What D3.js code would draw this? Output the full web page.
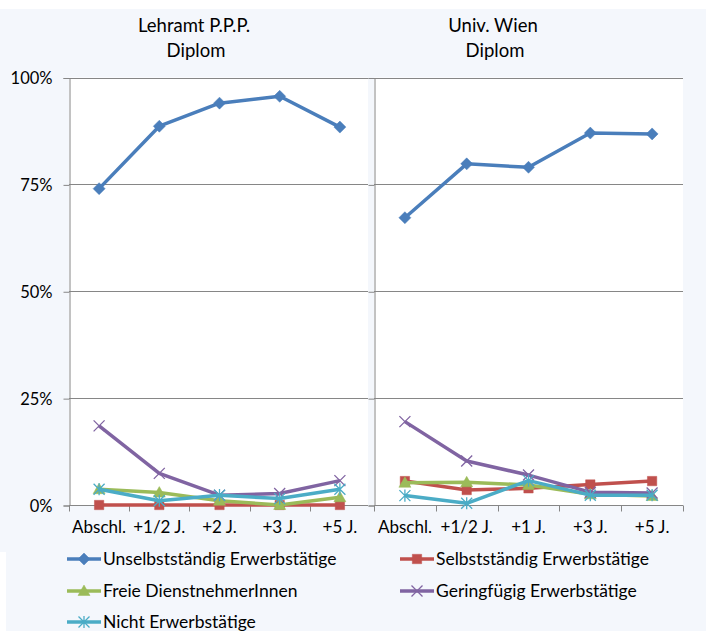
<!DOCTYPE html>
<html><head><meta charset="utf-8">
<script src="https://cdn.jsdelivr.net/npm/d3@7"></script>
<style>
body{margin:0;padding:0;background:#fff;}
svg{display:block;}
text{font-family:Lato,"Open Sans",sans-serif;fill:#000;}
</style></head><body>
<svg id="chart" width="706" height="631"></svg>
<script>
// ---- data ----
const leftTitle = ["Lehramt P.P.P.", "Diplom"];
const rightTitle = ["Univ. Wien", "Diplom"];
const leftCategories = ["Abschl.", "+1/2 J.", "+2 J.", "+3 J.", "+5 J."];
const rightCategories = ["Abschl.", "+1/2 J.", "+1 J.", "+3 J.", "+5 J."];
const seriesNames = ["Unselbstständig Erwerbstätige", "Selbstständig Erwerbstätige", "Freie DienstnehmerInnen", "Geringfügig Erwerbstätige", "Nicht Erwerbstätige"];
const seriesColors = ["#4A7EBB", "#C0504D", "#9BBB59", "#8064A2", "#4BACC6"];
const seriesMarkers = ["diamond", "square", "triangle", "x", "star"];
// left panel (Lehramt P.P.P. Diplom), values in %
const leftUnselbst = [74.0, 88.6, 94.0, 95.6, 88.4];
const leftSelbst = [0, 0, 0, 0, 0];
const leftFreie = [3.7, 2.9, 1.0, 0, 1.8];
const leftGering = [18.5, 7.4, 2.3, 2.7, 5.7];
const leftNicht = [3.7, 1.0, 2.3, 1.5, 3.7];
// right panel (Univ. Wien Diplom)
const rightUnselbst = [67.2, 79.8, 79.0, 87.0, 86.8];
const rightSelbst = [5.6, 3.5, 3.9, 4.8, 5.6];
const rightFreie = [5.2, 5.3, 4.7, 2.5, 2.1];
const rightGering = [19.5, 10.3, 7.0, 3.0, 2.8];
const rightNicht = [2.2, 0.4, 5.7, 2.3, 2.3];
const yTicks = [0, 25, 50, 75, 100];

const svg = d3.select("#chart");
// background
svg.append("rect").attr("x",0).attr("y",9).attr("width",706).attr("height",622).attr("fill","#F4F7FC");
svg.append("rect").attr("x",0).attr("y",552).attr("width",6).attr("height",79).attr("fill","#fff");

const y = d3.scaleLinear().domain([0,100]).range([505,77.5]);

function marker(type, s){
  switch(type){
    case "diamond": return `M0,${-s}L${s},0L0,${s}L${-s},0Z`;
    case "square": return `M${-s*0.85},${-s*0.85}h${s*1.7}v${s*1.7}h${-s*1.7}Z`;
    case "triangle": return `M0,${-s}L${s},${s*0.75}L${-s},${s*0.75}Z`;
    case "x": return `M${-s},${-s}L${s},${s}M${-s},${s}L${s},${-s}`;
    case "star": return `M${-s},${-s}L${s},${s}M${-s},${s}L${s},${-s}M0,${-s*1.1}L0,${s*1.1}`;
  }
}
function msize(m){ return m==="diamond"?6:(m==="square"?5.5:(m==="triangle"?6:5.5)); }

function panel(x0, x1, whiteEnd, cats, data, title, titleX, showY){
  const g = svg.append("g");
  const x = d3.scaleBand().domain(cats).range([x0, x1]);
  g.append("rect").attr("x",x0).attr("y",y(100)).attr("width",whiteEnd-x0).attr("height",y(0)-y(100)).attr("fill","#fff");
  // grid
  g.selectAll(".grid").data(yTicks).join("line")
    .attr("x1",x0).attr("x2",whiteEnd).attr("y1",d=>Math.round(y(d))+0.5).attr("y2",d=>Math.round(y(d))+0.5)
    .attr("stroke","#868686").attr("stroke-width",1);
  // y axis
  const ya = d3.axisLeft(y).tickValues(yTicks).tickSize(6).tickFormat(d=>d+"%");
  const yg = g.append("g").attr("transform",`translate(${Math.round(x0)+0.5},0.5)`).call(ya);
  yg.select(".domain").attr("stroke","#868686");
  yg.selectAll(".tick line").attr("stroke","#868686");
  yg.selectAll("text").attr("font-size","16.5px").attr("x",-17).attr("dy","0.35em");
  if(!showY) yg.selectAll("text").remove();
  // x axis
  const xa = d3.axisBottom(x).tickSize(0).tickPadding(0);
  const xg = g.append("g").attr("transform",`translate(0,${Math.round(y(0))+0.5})`).call(xa);
  xg.select(".domain").attr("stroke","#868686").attr("d",`M${x0},0H${whiteEnd}`);
  xg.selectAll("text").attr("font-size","17px").attr("y",22).attr("dy","0.35em");
  const bounds = d3.range(cats.length+1).map(i=>x0+i*x.step()).filter(v=>v<=whiteEnd+1);
  xg.selectAll(".btick").data(bounds).join("line").attr("class","btick")
    .attr("x1",d=>Math.round(d)+0.5).attr("x2",d=>Math.round(d)+0.5).attr("y1",0).attr("y2",6).attr("stroke","#868686");
  // title
  g.append("text").attr("x",titleX).attr("y",32).attr("text-anchor","middle").attr("font-size","18.5px").text(title[0]);
  g.append("text").attr("x",titleX+2).attr("y",57).attr("text-anchor","middle").attr("font-size","18.5px").text(title[1]);
  // series
  const line = d3.line().x((d,i)=>x(cats[i])+x.bandwidth()/2).y(d=>y(d));
  data.forEach((vals,si)=>{
    const sg = g.append("g");
    sg.append("path").attr("d",line(vals)).attr("fill","none").attr("stroke",seriesColors[si]).attr("stroke-width",3.5).attr("stroke-linejoin","round");
    const m = seriesMarkers[si];
    const stroked = (m==="x"||m==="star");
    sg.selectAll("path.m").data(vals).join("path").attr("class","m")
      .attr("transform",(d,i)=>`translate(${x(cats[i])+x.bandwidth()/2},${y(d)})`)
      .attr("d",marker(m, msize(m)))
      .attr("fill",stroked?"none":seriesColors[si])
      .attr("stroke",seriesColors[si]).attr("stroke-width",stroked?1.3:0.5);
  });
}

panel(69, 370, 368, leftCategories, [leftUnselbst,leftSelbst,leftFreie,leftGering,leftNicht], leftTitle, 194, true);
panel(374, 683, 683, rightCategories, [rightUnselbst,rightSelbst,rightFreie,rightGering,rightNicht], rightTitle, 493, false);

// legend
const legPos = [[67,559],[400,559],[67,591],[400,591],[67,622]];
seriesNames.forEach((n,i)=>{
  const [lx,ly] = legPos[i];
  const lg = svg.append("g");
  lg.append("line").attr("x1",lx).attr("x2",lx+34).attr("y1",ly).attr("y2",ly).attr("stroke",seriesColors[i]).attr("stroke-width",3.5);
  const m = seriesMarkers[i];
  const stroked = (m==="x"||m==="star");
  lg.append("path").attr("transform",`translate(${lx+17},${ly})`).attr("d",marker(m, msize(m)))
    .attr("fill",stroked?"none":seriesColors[i]).attr("stroke",seriesColors[i]).attr("stroke-width",stroked?1.3:0.5);
  lg.append("text").attr("x",lx+36).attr("y",ly).attr("dy","0.35em").attr("font-size","17.5px").text(n);
});
</script>
</body></html>
